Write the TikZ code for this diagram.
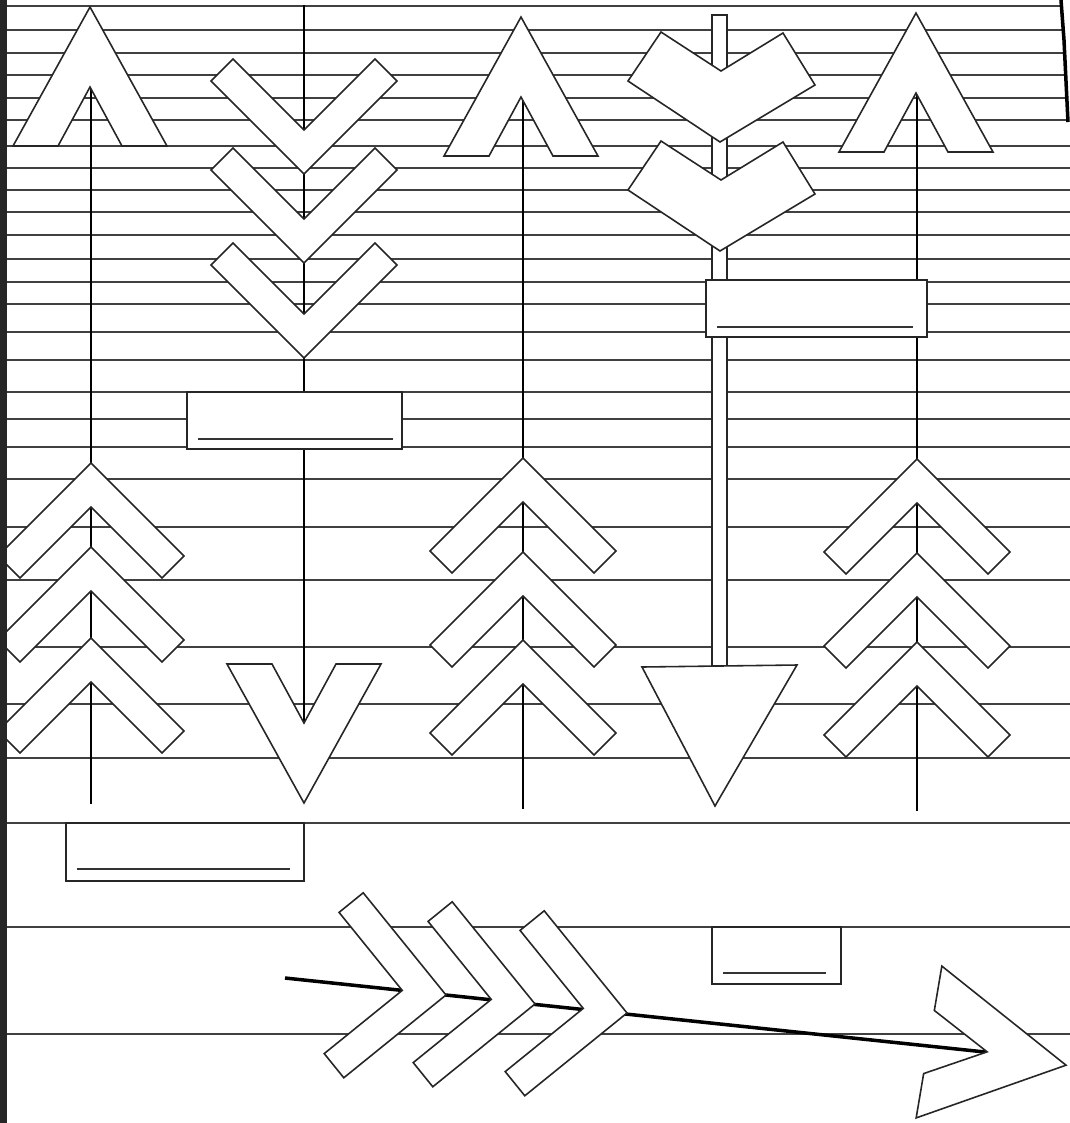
\documentclass[tikz,border=0pt]{standalone}
\begin{document}
\begin{tikzpicture}[
        x=0.01cm, y=-0.01cm,
        rule/.style={draw=black!75, line width=0.45pt},
        shaft/.style={draw=black, line width=0.8pt},
        outline/.style={draw=black!85, line width=0.45pt, fill=white, line join=miter},
        tagline/.style={draw=black!80, line width=0.5pt},
        fletch/.pic={
            \path[outline] (0,0) -- (93,93) -- (71,115) -- (0,44) -- (-71,115) -- (-93,93) -- cycle;
        },
        broadfletch/.pic={
            \path[outline] (0,0) -- (-92,-61) -- (-59,-110) -- (1,-71) -- (63,-109) -- (95,-57) -- cycle;
        },
        headpoint/.pic={
            \path[outline] (-77,0) -- (0,-139) -- (77,0) -- (32,0) -- (0,-59) -- (-32,0) -- cycle;
        }
    ]
    \useasboundingbox (0,0) rectangle (1070,1123);

    \foreach \y in {6,30,53,75,98,120,146,168,190,212,235,259,282,304,332,360,392,419,447,479,527,580,647,704,758,823,927,1034}
        \draw[rule] (7,\y) -- (1070,\y);

    \coordinate (upA) at (91,87);
    \coordinate (lowA) at (91,804);
    \coordinate (upB) at (304,5);
    \coordinate (lowB) at (304,722);
    \coordinate (upC) at (523,97);
    \coordinate (lowC) at (523,809);
    \coordinate (upE) at (917,94);
    \coordinate (lowE) at (917,811);
    \coordinate (tailF) at (285,978);
    \coordinate (tipF) at (985,1052);

    \draw[shaft] (upA) -- (lowA);
    \draw[shaft] (upB) -- (lowB);
    \draw[shaft] (upC) -- (lowC);
    \draw[shaft] (upE) -- (lowE);
    \draw[shaft, line width=1pt] (tailF) -- (tipF);
    \path[outline] (712,666) rectangle (727,15);

    \pic at (91,463) {fletch};
    \pic at (91,547) {fletch};
    \pic at (91,638) {fletch};
    \pic[rotate=180] at (304,174) {fletch};
    \pic[rotate=180] at (304,263) {fletch};
    \pic[rotate=180] at (304,358) {fletch};
    \pic at (523,458) {fletch};
    \pic at (523,552) {fletch};
    \pic at (523,640) {fletch};
    \pic at (720,142) {broadfletch};
    \pic at (720,251) {broadfletch};
    \pic at (917,459) {fletch};
    \pic at (917,553) {fletch};
    \pic at (917,642) {fletch};
    \pic[rotate=-96] at (446,995) {fletch};
    \pic[rotate=-96] at (535,1004) {fletch};
    \pic[rotate=-96] at (627,1013) {fletch};

    \path[outline] (187,392) rectangle (402,449);
    \draw[tagline] (198,439) -- (393,439);
    \path[outline] (706,280) rectangle (927,337);
    \draw[tagline] (717,327) -- (913,327);
    \path[outline] (66,823) rectangle (304,881);
    \draw[tagline] (77,869) -- (290,869);
    \path[outline] (712,927) rectangle (841,984);
    \draw[tagline] (723,973) -- (826,973);

    \pic at (90,146) {headpoint};
    \pic[rotate=180] at (304,664) {headpoint};
    \pic at (521,156) {headpoint};
    \pic at (916,152) {headpoint};
    \pic[rotate=-99.6] at (929,1042) {headpoint};
    \path[outline] (642,667) -- (797,665) -- (715,806) -- cycle;

    \fill[black!85] (0,0) rectangle (7,1123);
    \fill[white] (1062,0) -- (1070,0) -- (1070,122) -- (1068,122) -- cycle;
    \draw[black, line width=1pt] (1061,0) -- (1064,40) -- (1068,122);
\end{tikzpicture}
\end{document}
